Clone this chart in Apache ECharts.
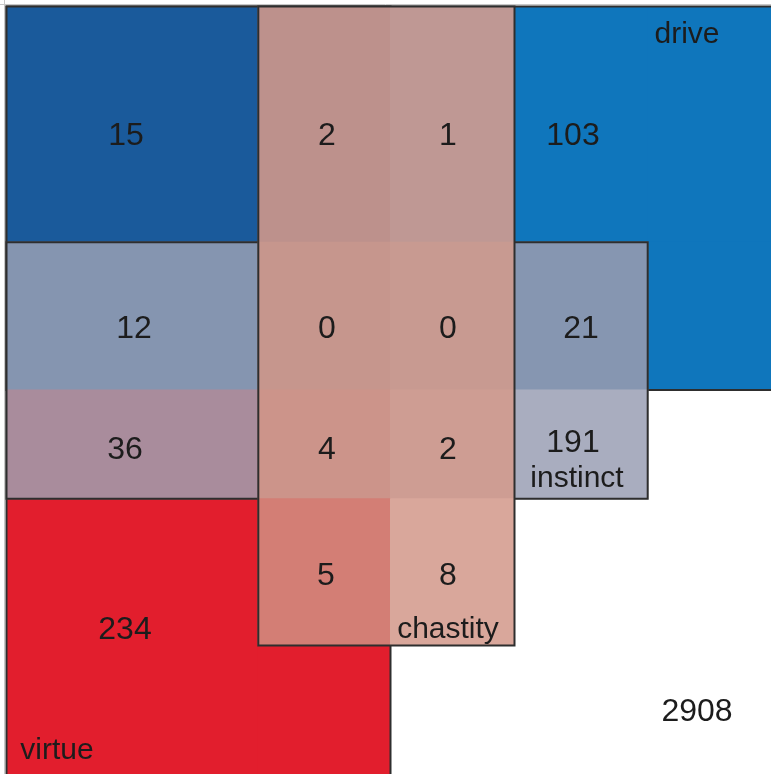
<!DOCTYPE html>
<html>
<head>
<meta charset="utf-8">
<script src="https://cdn.jsdelivr.net/npm/echarts@6/dist/echarts.min.js"></script>
<style>
html,body{margin:0;padding:0;background:#fff;}
#chart{width:771px;height:774px;}
</style>
</head>
<body>
<div id="chart"></div>
<script>
// ---- DATA ----
const setNames = ['drive', 'virtue', 'instinct', 'chastity'];
// region keys: D=drive, V=virtue, I=instinct, C=chastity
const regionKeys = ['DV', 'CDV', 'CD', 'D', 'DIV', 'CDIV', 'CDI', 'DI', 'IV', 'CIV', 'CI', 'I', 'V', 'CV', 'C', 'none'];
const regionCounts = [15, 2, 1, 103, 12, 0, 0, 21, 36, 4, 2, 191, 234, 5, 8, 2908];

// ---- LAYOUT (diagram geometry, style) ----
const colEdges = [6.5, 258.3, 390.5, 514.5, 647.7, 773];
const rowEdges = [6.5, 242.3, 390, 498.8, 645.6, 776];
// grid of region keys per (row, col)
const cellGrid = [
  ['DV', 'CDV', 'CD', 'D', 'D'],
  ['DIV', 'CDIV', 'CDI', 'DI', 'D'],
  ['IV', 'CIV', 'CI', 'I', 'none'],
  ['V', 'CV', 'C', 'none', 'none'],
  ['V', 'V', 'none', 'none', 'none']
];
// set rectangles in edge indices [c0, c1, r0, r1], drawn in this order
const setRects = {
  drive: [0, 5, 0, 2],
  virtue: [0, 2, 0, 5],
  instinct: [0, 4, 1, 3],
  chastity: [1, 3, 0, 4]
};
const regionColors = {
  DV: '#1a5a9b', CDV: '#bd918c', CD: '#bf9894', D: '#0f76bc',
  DIV: '#8595b0', CDIV: '#c6968d', CDI: '#c89a91', DI: '#8696b1',
  IV: '#a98c9c', CIV: '#cc948a', CI: '#ce9d93', I: '#a9adbf',
  V: '#e21e2d', CV: '#d37e75', C: '#d9a79b', none: '#ffffff'
};
const countPos = {
  DV: [126, 136], CDV: [327, 136], CD: [448, 136], D: [573, 136],
  DIV: [134, 329], CDIV: [327, 329], CDI: [448, 329], DI: [581, 329],
  IV: [125, 450], CIV: [327, 450], CI: [448, 450], I: [573, 443],
  V: [125, 630], CV: [326, 576], C: [448, 576], none: [697, 712]
};
const namePos = {
  drive: [687, 35], virtue: [57, 751], instinct: [577, 479], chastity: [448, 630]
};
const textColor = '#1c1c1c';
const lineColor = '#2e2e2e';

function edgeRect(api, c0, c1, r0, r1) {
  const p0 = api.coord([colEdges[c0], rowEdges[r0]]);
  const p1 = api.coord([colEdges[c1], rowEdges[r1]]);
  return { x: p0[0], y: p0[1], width: p1[0] - p0[0], height: p1[1] - p0[1] };
}

const series = [];
setNames.forEach(function (name, si) {
  const r = setRects[name];
  const cells = [];
  for (let row = r[2]; row < r[3]; row++) {
    for (let col = r[0]; col < r[1]; col++) {
      cells.push([col, row]);
    }
  }
  // fills of cells belonging to this set (final region colour)
  series.push({
    type: 'custom', name: name + '-fill', z: 2 + si * 2, silent: true,
    coordinateSystem: 'cartesian2d',
    data: cells,
    renderItem: function (params, api) {
      const col = api.value(0), row = api.value(1);
      const key = cellGrid[row][col];
      const s = edgeRect(api, col, col + 1, row, row + 1);
      return { type: 'rect', shape: { x: s.x - 0.5, y: s.y - 0.5, width: s.width + 1, height: s.height + 1 },
               style: { fill: regionColors[key], stroke: null } };
    }
  });
  // outline of the set
  series.push({
    type: 'custom', name: name + '-outline', z: 3 + si * 2, silent: true,
    coordinateSystem: 'cartesian2d',
    data: [[r[0], r[2]]],
    renderItem: function (params, api) {
      const s = edgeRect(api, r[0], r[1], r[2], r[3]);
      return { type: 'rect', shape: s,
               style: { fill: null, stroke: lineColor, lineWidth: 2 } };
    }
  });
});

// count labels
series.push({
  type: 'custom', name: 'counts', z: 30, silent: true,
  coordinateSystem: 'cartesian2d',
  data: regionKeys.map(function (k, i) { return [countPos[k][0], countPos[k][1], regionCounts[i]]; }),
  renderItem: function (params, api) {
    const p = api.coord([api.value(0), api.value(1)]);
    return { type: 'text', x: p[0], y: p[1],
             style: { text: String(api.value(2)), fill: textColor, font: '32px "Liberation Sans", Arial, sans-serif',
                      align: 'center', verticalAlign: 'middle' } };
  }
});
// set name labels
series.push({
  type: 'custom', name: 'names', z: 30, silent: true,
  coordinateSystem: 'cartesian2d',
  data: setNames.map(function (n, i) { return [namePos[n][0], namePos[n][1], i]; }),
  renderItem: function (params, api) {
    const p = api.coord([api.value(0), api.value(1)]);
    return { type: 'text', x: p[0], y: p[1],
             style: { text: setNames[api.value(2)], fill: textColor, font: '30px "Liberation Sans", Arial, sans-serif',
                      align: 'center', verticalAlign: 'middle' } };
  }
});

const chart = echarts.init(document.getElementById('chart'), null, { renderer: 'canvas' });
chart.setOption({
  animation: false,
  backgroundColor: '#ffffff',
  grid: { left: 0, right: 0, top: 0, bottom: 0 },
  xAxis: { type: 'value', min: 0, max: 771, show: false },
  yAxis: { type: 'value', min: 0, max: 774, inverse: true, show: false },
  graphic: [
    { type: 'line', shape: { x1: 0, y1: 4.5, x2: 771, y2: 4.5 }, style: { stroke: '#c8c8c8', lineWidth: 1 }, z: 50 },
    { type: 'line', shape: { x1: 4.5, y1: 0, x2: 4.5, y2: 774 }, style: { stroke: '#c8c8c8', lineWidth: 1 }, z: 50 }
  ],
  series: series
});
</script>
</body>
</html>
